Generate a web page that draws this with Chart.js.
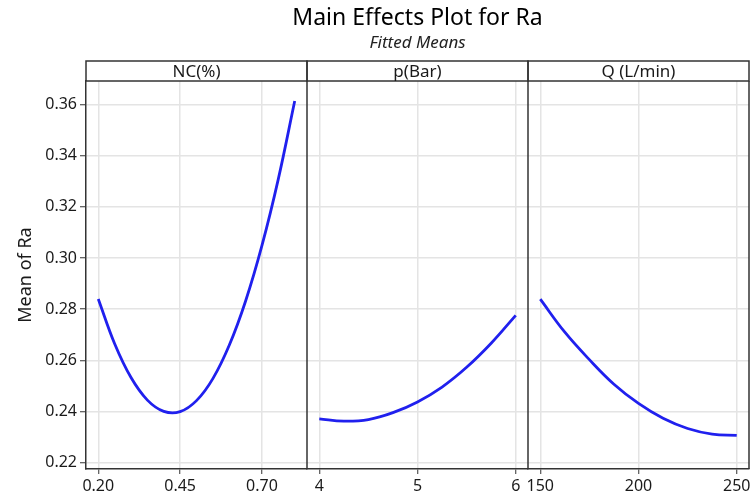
<!DOCTYPE html>
<html>
<head>
<meta charset="utf-8">
<script src="https://cdn.jsdelivr.net/npm/chart.js@4"></script>
<style>
    html, body { margin: 0; padding: 0; background: #fff; }
    #wrap { width: 750px; height: 497px; position: relative; }
</style>
</head>
<body>
<div id="wrap"><canvas id="mainEffects"></canvas></div>
<script>
// Fitted means
const ncLevels = [0.20, 0.25, 0.30, 0.35, 0.40, 0.45, 0.50, 0.55, 0.60, 0.65, 0.70, 0.75, 0.80];
const ncMeans = [0.2840, 0.2665, 0.2533, 0.2445, 0.2401, 0.2400, 0.2443, 0.2529, 0.2659, 0.2832, 0.3049, 0.3309, 0.3613];

const pLevels = [4.00, 4.25, 4.50, 4.75, 5.00, 5.25, 5.50, 5.75, 6.00];
const pMeans = [0.2372, 0.2363, 0.2369, 0.2396, 0.2438, 0.2496, 0.2573, 0.2667, 0.2776];

const qLevels = [150, 162.5, 175, 187.5, 200, 212.5, 225, 237.5, 250];
const qMeans = [0.2839, 0.2710, 0.2603, 0.2507, 0.2432, 0.2374, 0.2334, 0.2312, 0.2307];

const factorNames = ['NC(%)', 'p(Bar)', 'Q (L/min)'];
const ncTicks = [0.20, 0.45, 0.70];
const pTicks = [4, 5, 6];
const qTicks = [150, 200, 250];
const yTicks = [0.22, 0.24, 0.26, 0.28, 0.30, 0.32, 0.34, 0.36];

const FONT = "'Noto Sans', 'Open Sans', sans-serif";
const LINE_BLUE = '#2020ee';
const GRID = '#e4e4e4';
const FRAME = '#333333';
const TEXT = '#1a1a1a';
const STRIP_TOP = 61;

function toPoints(xs, ys) {
    return xs.map((x, i) => ({ x: x, y: ys[i] }));
}

function fixedTicks(values) {
    return scale => { scale.ticks = values.map(v => ({ value: v })); };
}

function panelAxis(lo, hi, ticks, fmt) {
    return {
        type: 'linear',
        position: 'bottom',
        stack: 'panels',
        stackWeight: 1,
        min: lo,
        max: hi,
        afterBuildTicks: fixedTicks(ticks),
        // labels never need extra room at the panel edges
        afterFit: scale => {
            scale.paddingLeft = 0;
            scale.paddingRight = 0;
            scale.height = 28;
        },
        grid: { color: GRID, lineWidth: 1.5, tickLength: 5, tickColor: FRAME, tickWidth: 1 },
        border: { display: true, color: FRAME, width: 1.5 },
        ticks: {
            autoSkip: false,
            maxRotation: 0,
            padding: 3,
            color: TEXT,
            font: { family: FONT, size: 16 },
            callback: fmt
        }
    };
}

// strip headers over each panel plus the panel dividers
const panelFrame = {
    id: 'panelFrame',
    afterDraw(chart) {
        const ctx = chart.ctx;
        const area = chart.chartArea;
        ctx.save();
        ['x1', 'x2', 'x3'].forEach((id, i) => {
            const s = chart.scales[id];
            ctx.strokeStyle = FRAME;
            ctx.lineWidth = 1.5;
            ctx.strokeRect(s.left, STRIP_TOP, s.right - s.left, area.top - STRIP_TOP);
            ctx.beginPath();
            ctx.moveTo(s.right, area.top);
            ctx.lineTo(s.right, area.bottom);
            ctx.stroke();
            ctx.fillStyle = TEXT;
            ctx.font = '17px ' + FONT;
            ctx.textAlign = 'center';
            ctx.textBaseline = 'middle';
            ctx.fillText(factorNames[i], (s.left + s.right) / 2, (STRIP_TOP + area.top) / 2 + 1);
        });
        ctx.restore();
    }
};

const lineStyle = {
    borderColor: LINE_BLUE,
    borderWidth: 2.8,
    pointRadius: 0,
    fill: false,
    tension: 0.4
};

new Chart(document.getElementById('mainEffects'), {
    type: 'line',
    data: {
        datasets: [
            { ...lineStyle, label: factorNames[0], data: toPoints(ncLevels, ncMeans), xAxisID: 'x1' },
            { ...lineStyle, label: factorNames[1], data: toPoints(pLevels, pMeans), xAxisID: 'x2' },
            { ...lineStyle, label: factorNames[2], data: toPoints(qLevels, qMeans), xAxisID: 'x3' }
        ]
    },
    options: {
        responsive: true,
        maintainAspectRatio: false,
        animation: false,
        layout: { padding: { left: 0, right: 1, top: 0, bottom: 0 } },
        plugins: {
            legend: { display: false },
            tooltip: { enabled: false },
            title: {
                display: true,
                fullSize: false,
                text: 'Main Effects Plot for Ra',
                color: '#000',
                font: { family: FONT, size: 23, weight: 'normal' },
                padding: { top: 5, bottom: 0 }
            },
            subtitle: {
                display: true,
                fullSize: false,
                text: 'Fitted Means',
                color: '#222',
                font: { family: FONT, size: 17, style: 'italic' },
                padding: { top: 0, bottom: 28 }
            }
        },
        scales: {
            x1: panelAxis(0.1625, 0.8375, ncTicks, v => v.toFixed(2)),
            x2: panelAxis(3.875, 6.125, pTicks, v => String(v)),
            x3: panelAxis(143.75, 256.25, qTicks, v => String(v)),
            y: {
                type: 'linear',
                position: 'left',
                min: 0.2176,
                max: 0.3691,
                afterBuildTicks: fixedTicks(yTicks),
                afterFit: scale => { scale.width = 86; },
                grid: { color: GRID, lineWidth: 1.5, tickLength: 6, tickColor: FRAME, tickWidth: 1 },
                border: { display: true, color: FRAME, width: 1.5 },
                ticks: {
                    padding: 3,
                    color: TEXT,
                    font: { family: FONT, size: 16 },
                    callback: v => v.toFixed(2)
                },
                title: {
                    display: true,
                    text: 'Mean of Ra',
                    color: TEXT,
                    font: { family: FONT, size: 18 },
                    padding: { top: 15, bottom: 0 }
                }
            }
        }
    },
    plugins: [panelFrame]
});
</script>
</body>
</html>
